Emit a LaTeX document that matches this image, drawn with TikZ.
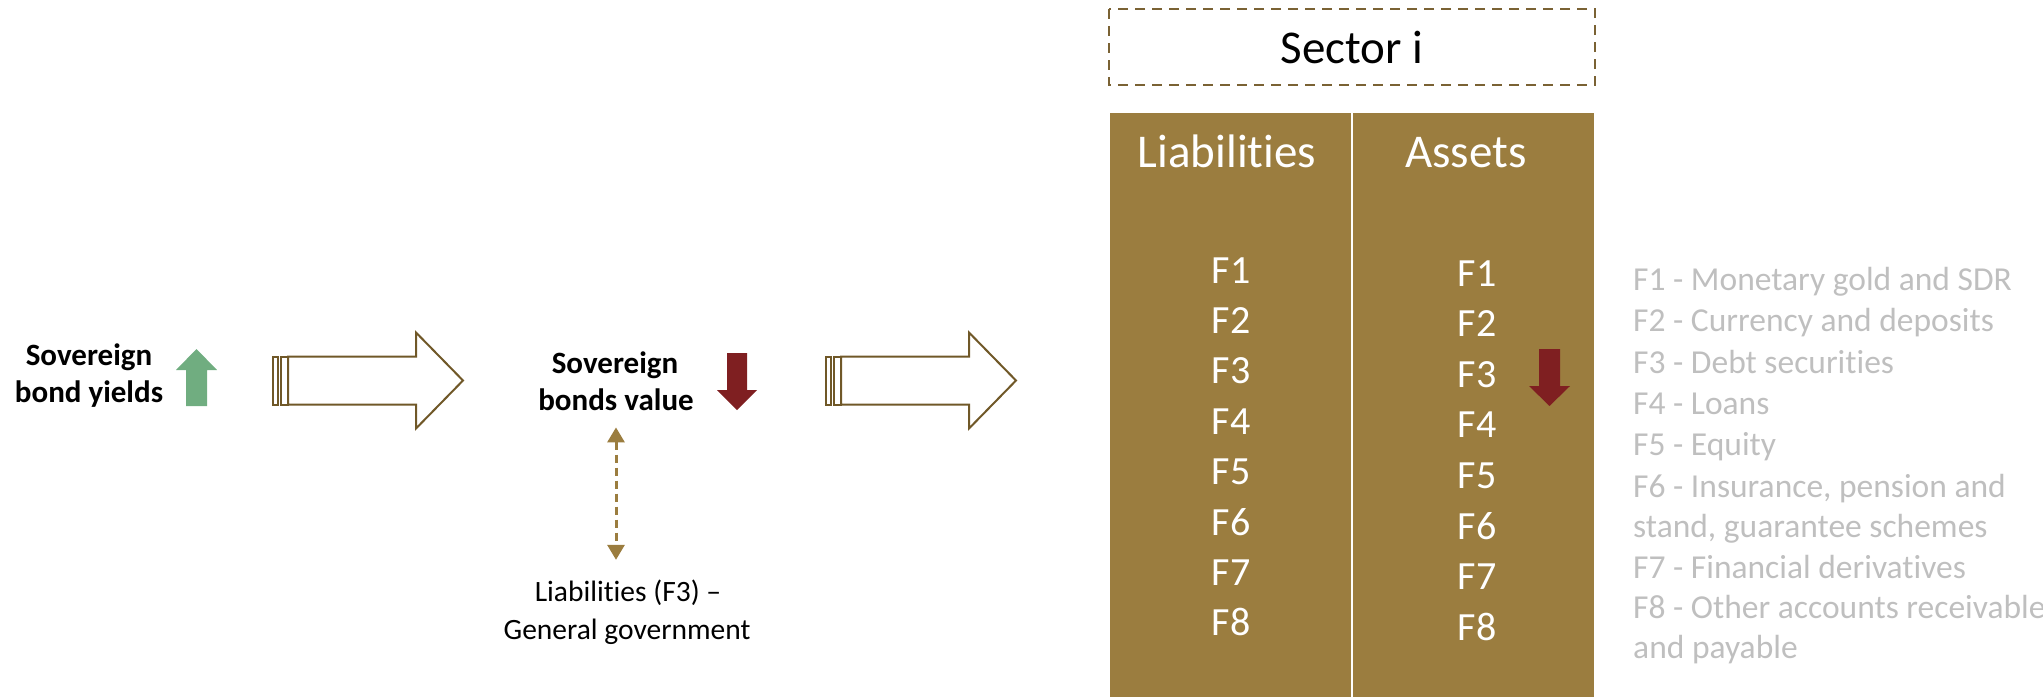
\documentclass[tikz,border=0pt]{standalone}
\usepackage{fontspec}
\setmainfont{Carlito}[Ligatures={NoCommon,NoContextual}]
\usetikzlibrary{arrows.meta,calc}
\definecolor{gold}{RGB}{155,125,63}
\definecolor{arrbrown}{RGB}{112,88,40}
\definecolor{boxbrown}{RGB}{122,98,52}
\definecolor{upgreen}{RGB}{112,173,128}
\definecolor{downred}{RGB}{127,31,33}
\definecolor{leggray}{RGB}{191,191,191}
\begin{document}
\begin{tikzpicture}[x=1pt,y=-1pt,
  boldtxt/.style={font=\fontsize{31}{37}\selectfont\bfseries, inner sep=0pt, anchor=base},
  plaintxt/.style={font=\fontsize{29.5}{37}\selectfont, inner sep=0pt, anchor=base},
  headtxt/.style={font=\fontsize{47}{56}\selectfont, inner sep=0pt, anchor=base},
  ftxt/.style={font=\fontsize{40}{48}\selectfont, text=white, inner sep=0pt, anchor=base},
  legtxt/.style={font=\fontsize{33.5}{41}\selectfont, text=leggray, inner sep=0pt, anchor=base west},
  blockline/.style={draw=arrbrown, line width=2pt, line join=miter},
  dasharr/.style={draw=gold, line width=3pt, dash pattern=on 8pt off 5pt,
    {Triangle[width=17pt,length=15pt]}-{Triangle[width=17pt,length=15pt]}},
  stripedarrow/.pic={
    \draw[blockline, fill=white] (0,-24) rectangle (5,24);
    \draw[blockline, fill=white] (8,-24) rectangle (15,24);
    \draw[blockline, fill=white] (15,-24) -- (143,-24) -- (143,-48) -- (190,0)
      -- (143,48) -- (143,24) -- (15,24) -- cycle;
  }]
\useasboundingbox (0,0) rectangle (2043,697);

% left text
\node[boldtxt] (syl1) at (89,365) {Sovereign};
\node[boldtxt] (syl2) at (89,402) {bond yields};
% green up arrow
\fill[upgreen] (186,406) -- (207,406) -- (207,370) -- (217,370) -- (196.5,349)
  -- (176,370) -- (186,370) -- cycle;

% first striped arrow
\pic at (273,380.5) {stripedarrow};

% middle text
\node[boldtxt] (sbv1) at (615,373) {Sovereign};
\node[boldtxt] (sbv2) at (616,410) {bonds value};
\fill[downred] (727,353) -- (747,353) -- (747,390) -- (757,390) -- (737,410)
  -- (717,390) -- (727,390) -- cycle;

\node[plaintxt, text height=22pt] (lgg1) at (628,601) {Liabilities (F3) –};
\node[plaintxt] (lgg2) at (627,639) {General government};

\draw[dasharr] ($(sbv2.south)+(0,17)$) -- ($(sbv2.south |- lgg1.north)+(0,-19)$);

% second striped arrow
\pic at (826,380.5) {stripedarrow};

% sector box
\draw[draw=boxbrown, line width=2.5pt, dash pattern=on 10pt off 7pt] (1109,9) rectangle (1595,85);
\node[headtxt] (sector) at (1352,63) {Sector i};

% table
\fill[gold] (1110,113) rectangle (1594,697);
\draw[white, line width=1.5pt] (1352,113) -- (1352,697);
\node[headtxt, text=white] (liab) at (1227,167) {Liabilities};
\node[headtxt, text=white] (assets) at (1466,167) {Assets};

\foreach \i in {1,...,8} {
  \node[ftxt] (l\i) at (1231,{283+50.4*(\i-1)}) {F\i};
  \node[ftxt] (a\i) at (1477,{286+50.6*(\i-1)}) {F\i};
}
\fill[downred] (1539,349) -- (1560,349) -- (1560,386) -- (1570,386) -- (1549.5,406)
  -- (1529,386) -- (1539,386) -- cycle;

% legend
\node[legtxt] (g1) at (1633,290) {F1 - Monetary gold and SDR};
\node[legtxt] (g2) at (1633,331) {F2 - Currency and deposits};
\node[legtxt] (g3) at (1633,373) {F3 - Debt securities};
\node[legtxt] (g4) at (1633,414) {F4 - Loans};
\node[legtxt] (g5) at (1633,455) {F5 - Equity};
\node[legtxt] (g6) at (1633,497) {F6 - Insurance, pension and};
\node[legtxt] (g6b) at (1633,537) {stand, guarantee schemes};
\node[legtxt] (g7) at (1633,578) {F7 - Financial derivatives};
\node[legtxt] (g8) at (1633,618) {F8 - Other accounts receivable};
\node[legtxt] (g8b) at (1633,658) {and payable};
\end{tikzpicture}
\end{document}
